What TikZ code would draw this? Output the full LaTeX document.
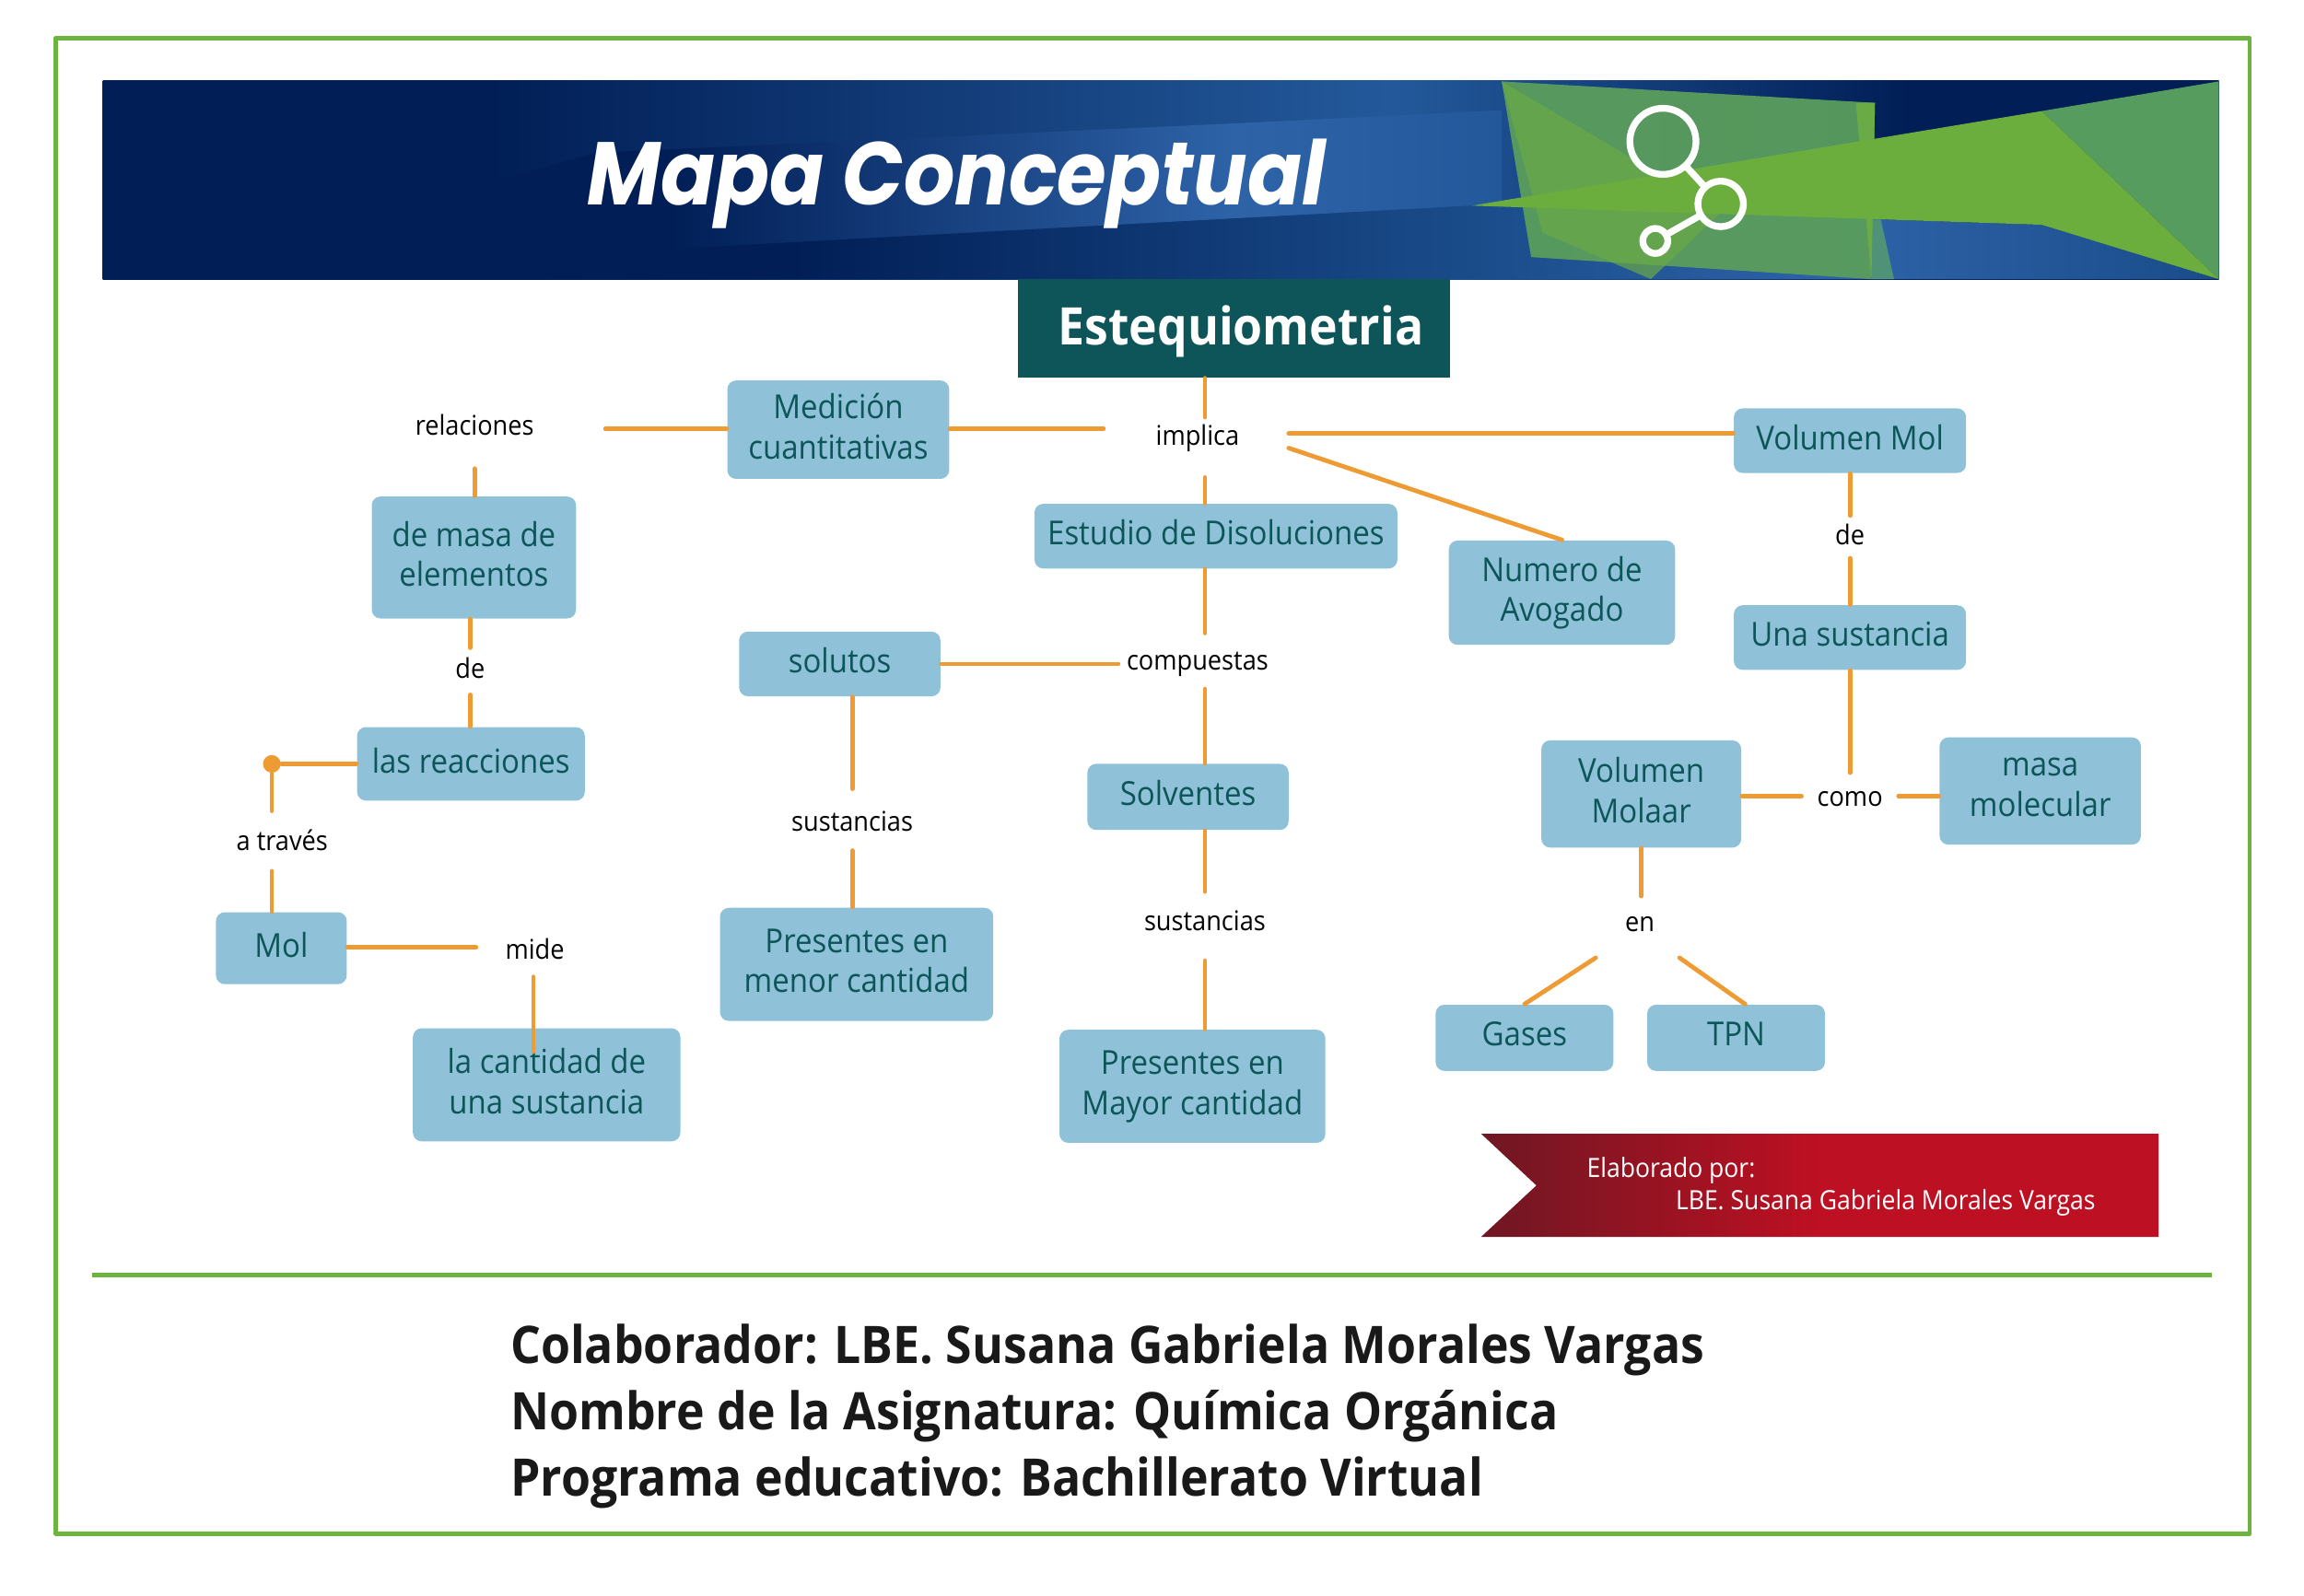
\documentclass[tikz,border=0pt]{standalone}
\usepackage{fontspec}
\usepackage{tikz}
\usetikzlibrary{arrows}
\setmainfont{Open Sans}[FakeStretch=0.92]
\newfontfamily\titlefont{Poppins}[FakeStretch=0.9]
\def\un{0.01595cm}
\definecolor{navyb}{HTML}{011E56}
\definecolor{midb}{HTML}{16427F}
\definecolor{blueb}{HTML}{23599B}
\definecolor{lightb}{HTML}{2E63A8}
\definecolor{lowb}{HTML}{1A4C8A}
\definecolor{linegr}{HTML}{6DB33F}
\definecolor{boxbl}{HTML}{8FC1D8}
\definecolor{boxtx}{HTML}{0C5558}
\definecolor{headgr}{HTML}{0D5558}
\definecolor{conor}{HTML}{EE9B33}
\definecolor{redl}{HTML}{6F1723}
\definecolor{redr}{HTML}{BD1022}
\pgfdeclarehorizontalshading{bannerbase}{100bp}{color(0bp)=(navyb); color(34bp)=(navyb); color(47bp)=(midb); color(55.5bp)=(blueb); color(67.7bp)=(navyb); color(100bp)=(navyb)}
\pgfdeclarehorizontalshading{bannerband}{100bp}{color(0bp)=(navyb); color(25bp)=(navyb); color(36bp)=(navyb); color(62.5bp)=(lightb); color(75bp)=(blueb); color(100bp)=(blueb)}
\tikzset{
  bx/.style 2 args={fill=boxbl,rounded corners=6*\un,text=boxtx,align=center,font=\fontsize{10.2}{12.4}\selectfont,text depth=2.3pt,minimum width=#1*\un,minimum height=#2*\un,inner sep=0pt},
  lbl/.style={text=black,font=\fontsize{8.4}{10}\selectfont,inner sep=1pt},
  con/.style={draw=conor,line width=3*\un},
  ring/.style={circle,draw=white,line width=4.6*\un,inner sep=0pt,minimum size=#1*\un},
  bigtx/.style={anchor=west,text=black!90,inner sep=0pt,font=\fontsize{16}{18}\selectfont\bfseries}
}
\begin{document}
\begin{tikzpicture}[line cap=round,line join=round,x=\un,y=-\un]
\useasboundingbox (0,0) rectangle (1568,1086);
\draw [linegr,line width=3*\un,line cap=butt] (38,26) rectangle (1531,1044);
\draw [linegr,line width=3*\un,line cap=butt] (63,868) -- (1505,868);

\shade [shading=bannerbase] (70,55) rectangle (1510,190);
\shade [shading=bannerband] (295,135) -- (405,104) -- (840,84) -- (1022,75) -- (1022,138) -- (1002,140) -- (295,178) -- cycle;
\shade [left color=navyb,right color=lowb,middle color=navyb] (70,190) -- (70,178) -- (295,178) -- (1002,140) -- (1002,190) -- cycle;
\shade [left color=lowb,right color=lowb,middle color=lightb] (1002,140) -- (1002,190) -- (1510,190) -- (1389.5,153) -- cycle;
\fill [fill={rgb,255:red,90;green,157;blue,92},opacity=0.95] (1022,55.4) -- (1276,70) -- (1273.6,190) -- (1042,175) -- cycle;
\fill [fill={rgb,255:red,79;green,146;blue,120}] (1273.6,149.4) -- (1280,149.4) -- (1289,190) -- (1273.6,190) -- cycle;
\fill [fill={rgb,255:red,106;green,170;blue,70},opacity=0.7] (1022,55.4) -- (1049.8,158.4) -- (1123.5,190) -- (1170.7,145) -- (1101.6,102.4) -- cycle;
\fill [fill={rgb,255:red,106;green,171;blue,69}] (1263,70) -- (1276,70) -- (1273.6,190) -- cycle;
\fill [fill={rgb,255:red,85;green,156;blue,94}] (1389.5,75.6) -- (1510,55.4) -- (1510,190) -- cycle;
\fill [fill={rgb,255:red,108;green,174;blue,62}] (1001.8,140) -- (1389.5,75.6) -- (1510,190) -- (1389.5,153) -- cycle;

\draw (1131.7,96.2) node[ring=45] (ringa) {};
\draw (1171,138.8) node[ring=31] (ringb) {};
\draw (1126.5,164) node[ring=17] (ringc) {};
\draw [white,line width=4.6*\un] (ringa) -- (ringb);
\draw [white,line width=4.6*\un] (ringb) -- (ringc);

\draw (651,125) node[text=white,inner sep=0pt,font=\titlefont\fontsize{27.5}{32}\selectfont\bfseries\itshape] (titulo) {Mapa Conceptual};
\draw (839.5,223.5) node[fill=headgr,text=white,minimum width=294*\un,minimum height=67*\un,inner sep=0pt,text height=14pt,font=\fontsize{16}{18}\selectfont\bfseries] (esteq) {\hspace*{4.5pt}Estequiometria};

\draw (570.5,292.5) node[bx={151}{67}] (medicion) {Medición\\cuantitativas};
\draw (322.5,379.5) node[bx={139}{83}] (masa) {de masa de\\elementos};
\draw (320.5,520) node[bx={155}{50}] (reac) {las reacciones};
\draw (191.5,645.5) node[bx={89}{49}] (mol) {Mol};
\draw (372,738.5) node[bx={182}{77}] (cantidad) {la cantidad de\\una sustancia};
\draw (827.5,365) node[bx={247}{44}] (estudio) {Estudio de Disoluciones};
\draw (571.5,452) node[bx={137}{44}] (solutos) {solutos};
\draw (583,656.5) node[bx={186}{77}] (menor) {Presentes en\\menor cantidad};
\draw (808.5,542.5) node[bx={137}{45}] (solventes) {Solventes};
\draw (811.5,739.5) node[bx={181}{77}] (mayor) {Presentes en\\Mayor cantidad};
\draw (1063,403.5) node[bx={154}{71}] (numero) {Numero de\\Avogado};
\draw (1259,300) node[bx={158}{44}] (volmol) {Volumen Mol};
\draw (1259,434) node[bx={158}{44}] (unasust) {Una sustancia};
\draw (1117,540.5) node[bx={136}{73}] (molaar) {Volumen\\Molaar};
\draw (1388.5,538.5) node[bx={137}{73}] (masamol) {masa\\molecular};
\draw (1037.5,706.5) node[bx={121}{45}] (gases) {Gases};
\draw (1181.5,706.5) node[bx={121}{45}] (tpn) {TPN};

\draw (323,289) node[lbl] (relaciones) {relaciones};
\draw (815,298) node[lbl] (implica) {implica};
\draw (320,455) node[lbl] (dea) {de};
\draw (815,452) node[lbl] (compuestas) {compuestas};
\draw (580,559) node[lbl] (sustanciasa) {sustancias};
\draw (820,627) node[lbl] (sustanciasb) {sustancias};
\draw (192,572) node[lbl] (atraves) {a través};
\draw (364,646) node[lbl] (mide) {mide};
\draw (1259,364) node[lbl] (deb) {de};
\draw (1259,544) node[lbl] (como) {como};
\draw (1116,629) node[lbl] (en) {en};

\coordinate (relE) at (412,292);
\coordinate (relS) at (323,319);
\coordinate (impW) at (751,292);
\coordinate (impN) at (820,284);
\coordinate (impS) at (820,325);
\coordinate (impE) at (877,295);
\coordinate (impD) at (877,305);
\coordinate (compN) at (820,431);
\coordinate (compW) at (761,452);
\coordinate (compS) at (820,469);
\coordinate (susbN) at (820,607);
\coordinate (susbS) at (820,654);
\coordinate (susaN) at (580,537);
\coordinate (susaS) at (580,579);
\coordinate (deaN) at (320,441);
\coordinate (deaS) at (320,473);
\coordinate (atrN) at (185,552);
\coordinate (atrS) at (185,593);
\coordinate (midW) at (324,645);
\coordinate (midS) at (363,665);
\coordinate (midE) at (363,716);
\coordinate (debN) at (1259,351);
\coordinate (debS) at (1259,380);
\coordinate (comN) at (1259,526);
\coordinate (comW) at (1226,542);
\coordinate (comE) at (1292,542);
\coordinate (enN) at (1117,610);
\coordinate (enL) at (1086,652);
\coordinate (enR) at (1143,652);

\draw [con] (relE) -- (relE -| medicion.west);
\draw [con] (relS) -- (relS |- masa.north);
\draw [con] (impW) -- (impW -| medicion.east);
\draw [con] (impN) -- (impN |- esteq.south);
\draw [con] (impS) -- (impS |- estudio.north);
\draw [con] (impE) -- (impE -| volmol.west);
\draw [con] (impD) -- (numero.north);
\draw [con] (compN) -- (compN |- estudio.south);
\draw [con] (compW) -- (compW -| solutos.east);
\draw [con] (compS) -- (compS |- solventes.north);
\draw [con] (susbN) -- (susbN |- solventes.south);
\draw [con] (susbS) -- (susbS |- mayor.north);
\draw [con] (susaN) -- (susaN |- solutos.south);
\draw [con] (susaS) -- (susaS |- menor.north);
\draw [con] (deaN) -- (deaN |- masa.south);
\draw [con] (deaS) -- (deaS |- reac.north);
\draw (185,520) node[circle,fill=conor,inner sep=0pt,minimum size=12*\un] (punto) {};
\draw [con] (punto) -- (punto -| reac.west);
\draw [con] (punto) -- (atrN);
\draw [con] (atrS) -- (atrS |- mol.north);
\draw [con] (midW) -- (midW -| mol.east);
\draw [con] (midS) -- (midE);
\draw [con] (debN) -- (debN |- volmol.south);
\draw [con] (debS) -- (debS |- unasust.north);
\draw [con] (comN) -- (comN |- unasust.south);
\draw [con] (comW) -- (comW -| molaar.east);
\draw [con] (comE) -- (comE -| masamol.west);
\draw [con] (enN) -- (enN |- molaar.south);
\draw [con] (enL) -- (gases.north);
\draw [con] (enR) -- (tpn.75);

\shade [left color=redl,right color=redr,middle color=redr] (1008,771.8) -- (1469,771.8) -- (1469,842) -- (1008,842) -- (1045.6,807) -- cycle;
\draw (1079.5,796.6) node[anchor=west,text=white,inner sep=0pt,font=\fontsize{8.2}{10}\selectfont] (elaborado) {Elaborado por:};
\draw (1140,819) node[anchor=west,text=white,inner sep=0pt,font=\fontsize{8.2}{10}\selectfont] (autora) {LBE. Susana Gabriela Morales Vargas};

\draw (347,919) node[bigtx] (colab) {Colaborador: LBE. Susana Gabriela Morales Vargas};
\draw (347,964) node[bigtx] (asig) {Nombre de la Asignatura: Química Orgánica};
\draw (347,1009) node[bigtx] (prog) {Programa educativo: Bachillerato Virtual};
\end{tikzpicture}
\end{document}
